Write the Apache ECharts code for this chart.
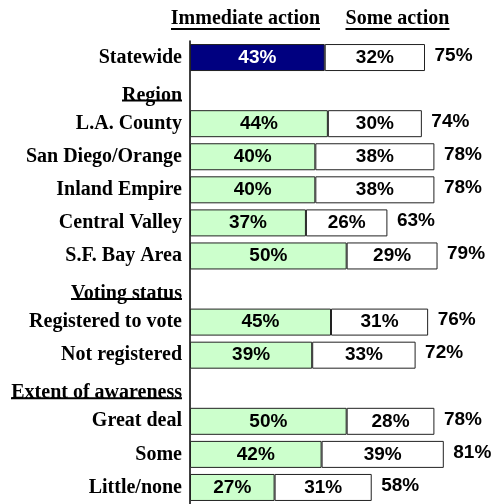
<!DOCTYPE html>
<html>
<head>
<meta charset="utf-8">
<script src="https://cdn.jsdelivr.net/npm/echarts@6/dist/echarts.min.js"></script>
<style>
  html, body { margin: 0; padding: 0; background: #fff; }
  #chart { width: 496px; height: 504px; }
</style>
</head>
<body>
<div id="chart"></div>
<script>
const categories = ['Statewide', 'Region', 'L.A. County', 'San Diego/Orange', 'Inland Empire',
    'Central Valley', 'S.F. Bay Area', 'Voting status', 'Registered to vote', 'Not registered',
    'Extent of awareness', 'Great deal', 'Some', 'Little/none'];
const headers = ['Region', 'Voting status', 'Extent of awareness'];
const immediate = [43, '-', 44, 40, 40, 37, 50, '-', 45, 39, '-', 50, 42, 27];
const someAction = [32, '-', 30, 38, 38, 26, 29, '-', 31, 33, '-', 28, 39, 31];
const totals = [75, '-', 74, 78, 78, 63, 79, '-', 76, 72, '-', 78, 81, 58];
const seriesNames = ['Immediate action', 'Some action'];

const serif = '"Liberation Serif", "Times New Roman", serif';
const sans = '"Liberation Sans", Arial, sans-serif';

// measure text so headers can get an underline of the same width
const ctx = document.createElement('canvas').getContext('2d');
ctx.font = 'bold 20px ' + serif;
const textWidth = (t) => Math.round(ctx.measureText(t).width);

const rich = {
    c: { fontFamily: serif, fontWeight: 'bold', fontSize: 20, color: '#000' },
    h: { fontFamily: serif, fontWeight: 'bold', fontSize: 20, color: '#000', lineHeight: 20, padding: [12, 0, 0, 0] }
};
headers.forEach((h, i) => {
    rich['u' + i] = { width: textWidth(h), height: 2, backgroundColor: '#000' };
});

const chart = echarts.init(document.getElementById('chart'));

const valueLabel = {
    show: true,
    position: 'inside',
    fontFamily: sans,
    fontWeight: 'bold',
    fontSize: 19,
    color: '#000',
    formatter: '{c}%'
};

const headerGraphic = (text, cx) => {
    const w = textWidth(text);
    return {
        type: 'group',
        children: [
            {
                type: 'text',
                x: cx, y: 19,
                style: {
                    text: text, fill: '#000', font: 'bold 20px ' + serif,
                    align: 'center', verticalAlign: 'middle'
                }
            },
            {
                type: 'rect',
                shape: { x: cx - w / 2, y: 28, width: w, height: 2 },
                style: { fill: '#000' }
            }
        ]
    };
};

const option = {
    animation: false,
    grid: { left: 190, right: 24, top: 41, bottom: 0 },
    xAxis: {
        type: 'value',
        min: 0,
        max: 90,
        show: false
    },
    yAxis: {
        type: 'category',
        data: categories,
        inverse: true,
        axisLine: { show: true, lineStyle: { color: '#000', width: 1.5 } },
        axisTick: { show: false },
        axisLabel: {
            margin: 8,
            formatter: function (v) {
                const i = headers.indexOf(v);
                if (i >= 0) return '{h|' + v + '}\n{u' + i + '|}';
                return '{c|' + v + '}';
            },
            rich: rich
        }
    },
    graphic: [
        headerGraphic(seriesNames[0], 245.5),
        headerGraphic(seriesNames[1], 397.5)
    ],
    series: [
        {
            name: seriesNames[0],
            type: 'bar',
            stack: 'total',
            barWidth: 27,
            itemStyle: { color: '#CCFFCC', borderColor: '#222', borderWidth: 1 },
            label: valueLabel,
            data: immediate.map((v, i) => i === 0
                ? { value: v, itemStyle: { color: '#000080' }, label: { color: '#fff' } }
                : v)
        },
        {
            name: seriesNames[1],
            type: 'bar',
            stack: 'total',
            barWidth: 27,
            itemStyle: { color: '#fff', borderColor: '#222', borderWidth: 1 },
            label: valueLabel,
            data: someAction
        },
        {
            name: 'Total',
            type: 'scatter',
            symbolSize: 1,
            itemStyle: { color: 'transparent', opacity: 1 },
            label: {
                show: true,
                position: 'right',
                distance: 9,
                offset: [0, -2],
                fontFamily: sans,
                fontWeight: 'bold',
                fontSize: 19,
                color: '#000',
                opacity: 1,
                formatter: (p) => p.value[0] + '%'
            },
            data: totals.map((t, i) => t === '-' ? null : [t, categories[i]]).filter(Boolean)
        }
    ]
};

chart.setOption(option);
</script>
</body>
</html>
